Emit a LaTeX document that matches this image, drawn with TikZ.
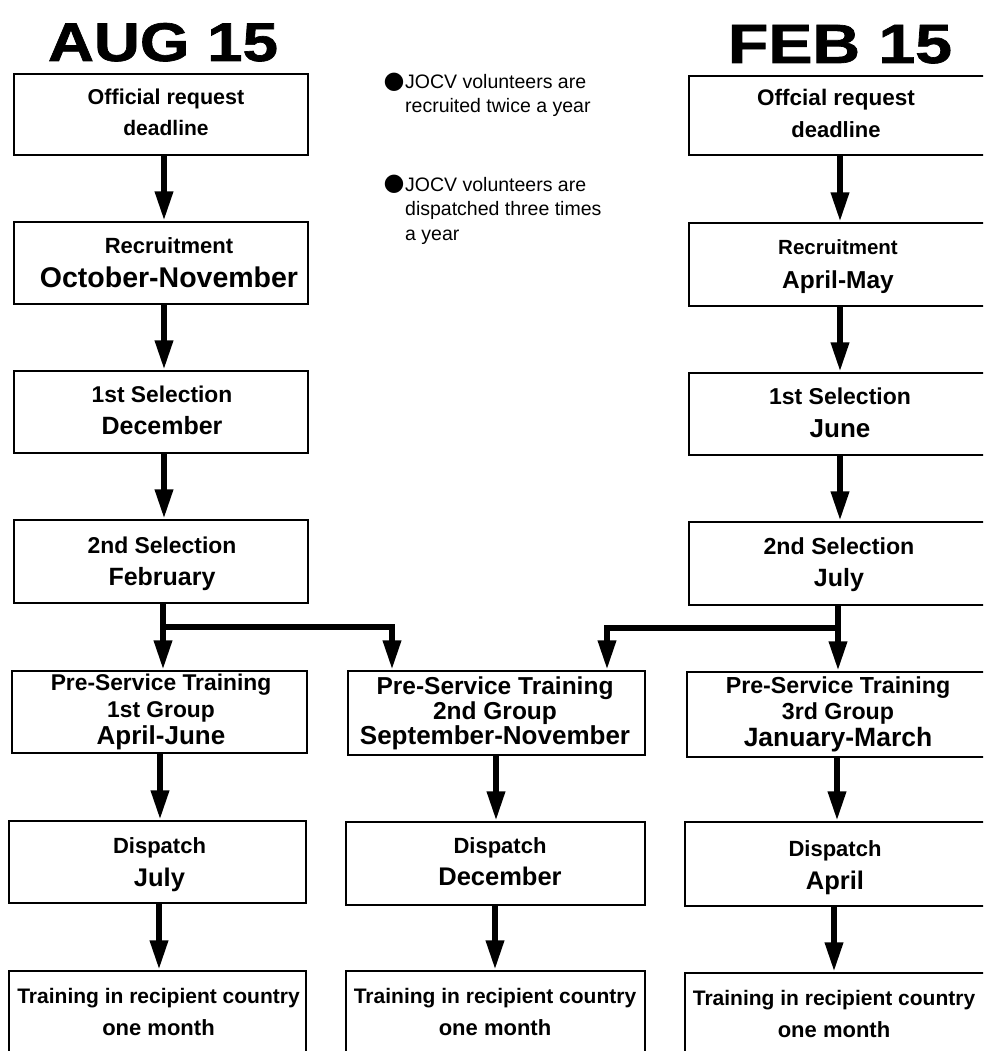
\documentclass[tikz,border=0pt]{standalone}
\usepackage{fontspec}
\usepackage{graphicx}
\setmainfont{Liberation Sans}
\newfontfamily\symfont{DejaVu Sans}
\newfontfamily\heavyfont[FakeBold=1.2]{Liberation Sans Bold}
\usetikzlibrary{arrows.meta}
\newcommand\fsz[2]{\fontsize{#1}{#2}\selectfont}
\begin{document}
\begin{tikzpicture}[x=1pt,y=-1pt,
  box/.style={draw, line width=1.5pt, inner sep=0pt},
  lbl/.style={inner sep=0pt, anchor=base, align=center},
  arr/.style={line width=6.5pt, line join=miter, -{Triangle[width=17pt,length=30pt]}},
  title/.style={inner sep=0pt, anchor=base, font=\heavyfont},
  note/.style={inner sep=0pt, anchor=base west, align=left, font=\fsz{19.5}{24.5}}]
\path[use as bounding box] (0,0) rectangle (983,1051);
\clip (0,0) rectangle (983,1051);

% titles
\node[title] (t1) at (163,61) {\resizebox{230pt}{38pt}{AUG 15}};
\node[title] (t2) at (840,63) {\resizebox{224pt}{38pt}{FEB 15}};

% notes
\node[inner sep=0pt] (bu1) at (394,82) {\symfont\fsz{24}{24}●};
\node[note] (n1) at (405,113) {JOCV volunteers are\\recruited twice a year};
\node[inner sep=0pt] (bu2) at (394,184.5) {\symfont\fsz{24}{24}●};
\node[note] (n2) at (405,240) {JOCV volunteers are\\dispatched three times\\a year};

% left column boxes
\node[box, minimum width=294pt, minimum height=81pt] (L1) at (161,114.5) {};
\node[box, minimum width=294pt, minimum height=82pt] (L2) at (161,263) {};
\node[box, minimum width=294pt, minimum height=82pt] (L3) at (161,412) {};
\node[box, minimum width=294pt, minimum height=83pt] (L4) at (161,561.5) {};
% right column boxes
\node[box, minimum width=296pt, minimum height=79pt] (R1) at (837,115.5) {};
\node[box, minimum width=296pt, minimum height=83pt] (R2) at (837,264.5) {};
\node[box, minimum width=296pt, minimum height=82pt] (R3) at (837,414) {};
\node[box, minimum width=296pt, minimum height=83pt] (R4) at (837,563.5) {};
% pre-service training boxes
\node[box, minimum width=295pt, minimum height=82pt] (P1) at (159.5,712) {};
\node[box, minimum width=297pt, minimum height=84pt] (P2) at (496.5,713) {};
\node[box, minimum width=298pt, minimum height=85pt] (P3) at (836,714.5) {};
% dispatch boxes
\node[box, minimum width=297pt, minimum height=82pt] (D1) at (157.5,862) {};
\node[box, minimum width=299pt, minimum height=83pt] (D2) at (495.5,863.5) {};
\node[box, minimum width=300pt, minimum height=84pt] (D3) at (835,864) {};
% training boxes
\node[box, minimum width=297pt, minimum height=82pt] (T1) at (157.5,1012) {};
\node[box, minimum width=299pt, minimum height=82pt] (T2) at (495.5,1012) {};
\node[box, minimum width=300pt, minimum height=82pt] (T3) at (835,1014) {};

% box texts (anchored at baseline of last line)
\node[lbl, font=\bfseries\fsz{21.5}{31}] (L1t) at (166,136) {Official request\\{\fsz{21}{31}deadline}};
\node[lbl, font=\bfseries\fsz{22}{34}] (L2t) at (169,287) {Recruitment\\{\fsz{28.5}{34}October-November}};
\node[lbl, font=\bfseries\fsz{22.8}{32}] (L3t) at (162,434) {1st Selection\\{\fsz{25}{32}December}};
\node[lbl, font=\bfseries\fsz{22.9}{32}] (L4t) at (162,585) {2nd Selection\\{\fsz{25}{32}February}};
\node[lbl, font=\bfseries\fsz{22.5}{32}] (R1t) at (836,138) {Offcial request\\{\fsz{22}{32}deadline}};
\node[lbl, font=\bfseries\fsz{20.5}{34}] (R2t) at (838,288) {Recruitment\\{\fsz{24.5}{34}April-May}};
\node[lbl, font=\bfseries\fsz{23}{33}] (R3t) at (840,437) {1st Selection\\{\fsz{26}{33}June}};
\node[lbl, font=\bfseries\fsz{23.2}{32}] (R4t) at (839,586) {2nd Selection\\{\fsz{25}{32}July}};
\node[lbl, font=\bfseries\fsz{22.8}{27}] (P1t) at (161,744) {Pre-Service Training\\1st Group\\{\fsz{26}{27}April-June}};
\node[lbl, font=\bfseries\fsz{24.5}{25}] (P2t) at (495,744) {Pre-Service Training\\2nd Group\\{\fsz{26}{25}September-November}};
\node[lbl, font=\bfseries\fsz{23.2}{26.5}] (P3t) at (838,746) {Pre-Service Training\\3rd Group\\{\fsz{26.5}{26.5}January-March}};
\node[lbl, font=\bfseries\fsz{22}{33}] (D1t) at (159.5,886) {Dispatch\\{\fsz{25.5}{33}July}};
\node[lbl, font=\bfseries\fsz{22}{32}] (D2t) at (500,885) {Dispatch\\{\fsz{25.5}{32}December}};
\node[lbl, font=\bfseries\fsz{22}{33}] (D3t) at (835,889) {Dispatch\\{\fsz{25.5}{33}April}};
\node[lbl, font=\bfseries\fsz{21}{32}] (T1t) at (158.5,1035) {Training in recipient country\\{\fsz{22}{32}one month}};
\node[lbl, font=\bfseries\fsz{21}{32}] (T2t) at (495,1035) {Training in recipient country\\{\fsz{22}{32}one month}};
\node[lbl, font=\bfseries\fsz{21}{32}] (T3t) at (834,1037) {Training in recipient country\\{\fsz{22}{32}one month}};

% connector positions
\coordinate (cL) at (164,0);
\coordinate (cR) at (840,0);
\coordinate (jl) at (163,627);
\coordinate (jl2) at (392,627);
\coordinate (jr) at (838,628);
\coordinate (jr2) at (607,628);
\coordinate (c1) at (160,0);
\coordinate (c2) at (496,0);
\coordinate (c3) at (837,0);
\coordinate (e1) at (159,0);
\coordinate (e2) at (495,0);
\coordinate (e3) at (834,0);

\draw[arr] (L1.south -| cL) -- (L2.north -| cL);
\draw[arr] (L2.south -| cL) -- (L3.north -| cL);
\draw[arr] (L3.south -| cL) -- (L4.north -| cL);
\draw[arr] (R1.south -| cR) -- (R2.north -| cR);
\draw[arr] (R2.south -| cR) -- (R3.north -| cR);
\draw[arr] (R3.south -| cR) -- (R4.north -| cR);

\draw[arr] (L4.south -| jl) -- (P1.north -| jl);
\draw[arr] (jl) -- (jl2) -- (P2.north -| jl2);
\draw[arr] (R4.south -| jr) -- (P3.north -| jr);
\draw[arr] (jr) -- (jr2) -- (P2.north -| jr2);

\draw[arr] (P1.south -| c1) -- (D1.north -| c1);
\draw[arr] (P2.south -| c2) -- (D2.north -| c2);
\draw[arr] (P3.south -| c3) -- (D3.north -| c3);
\draw[arr] (D1.south -| e1) -- (T1.north -| e1);
\draw[arr] (D2.south -| e2) -- (T2.north -| e2);
\draw[arr] (D3.south -| e3) -- (T3.north -| e3);
\end{tikzpicture}
\end{document}
